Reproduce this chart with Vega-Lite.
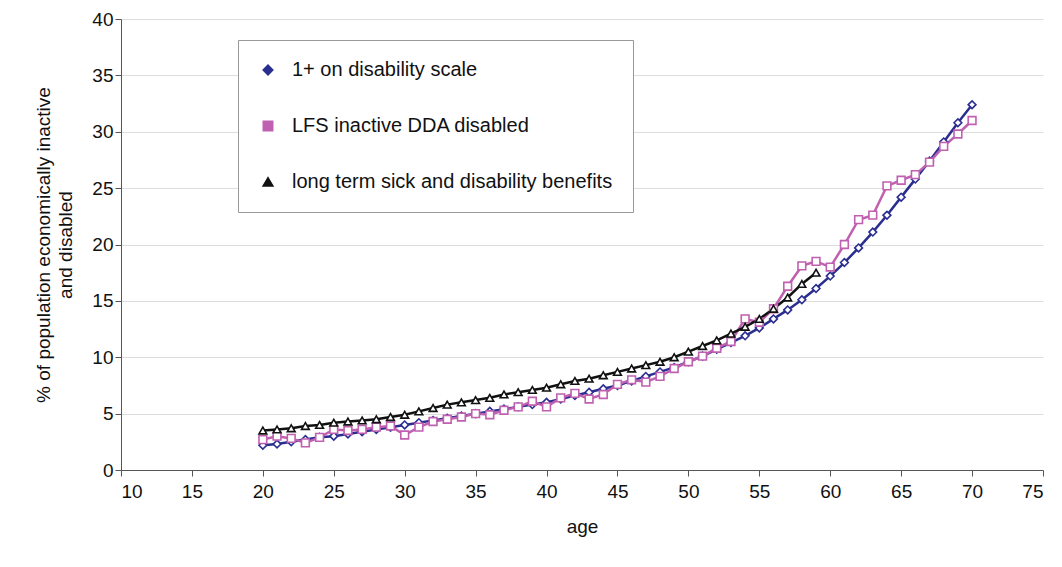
{
"$schema":"https://vega.github.io/schema/vega-lite/v6.json",
"width":922,"height":451,"autosize":{"type":"none"},"padding":{"left":121,"top":19,"right":19,"bottom":97},
"background":"white",
"data":{"values":[
{"s":"1+ on disability scale","age":20,"v":2.2},{"s":"1+ on disability scale","age":21,"v":2.3},{"s":"1+ on disability scale","age":22,"v":2.5},{"s":"1+ on disability scale","age":23,"v":2.7},{"s":"1+ on disability scale","age":24,"v":2.9},{"s":"1+ on disability scale","age":25,"v":3.0},{"s":"1+ on disability scale","age":26,"v":3.2},{"s":"1+ on disability scale","age":27,"v":3.4},{"s":"1+ on disability scale","age":28,"v":3.6},{"s":"1+ on disability scale","age":29,"v":3.8},{"s":"1+ on disability scale","age":30,"v":4.0},{"s":"1+ on disability scale","age":31,"v":4.2},{"s":"1+ on disability scale","age":32,"v":4.4},{"s":"1+ on disability scale","age":33,"v":4.6},{"s":"1+ on disability scale","age":34,"v":4.8},{"s":"1+ on disability scale","age":35,"v":5.0},{"s":"1+ on disability scale","age":36,"v":5.2},{"s":"1+ on disability scale","age":37,"v":5.4},{"s":"1+ on disability scale","age":38,"v":5.6},{"s":"1+ on disability scale","age":39,"v":5.8},{"s":"1+ on disability scale","age":40,"v":6.0},{"s":"1+ on disability scale","age":41,"v":6.3},{"s":"1+ on disability scale","age":42,"v":6.6},{"s":"1+ on disability scale","age":43,"v":6.9},{"s":"1+ on disability scale","age":44,"v":7.2},{"s":"1+ on disability scale","age":45,"v":7.5},{"s":"1+ on disability scale","age":46,"v":7.9},{"s":"1+ on disability scale","age":47,"v":8.3},{"s":"1+ on disability scale","age":48,"v":8.7},{"s":"1+ on disability scale","age":49,"v":9.1},{"s":"1+ on disability scale","age":50,"v":9.6},{"s":"1+ on disability scale","age":51,"v":10.1},{"s":"1+ on disability scale","age":52,"v":10.7},{"s":"1+ on disability scale","age":53,"v":11.3},{"s":"1+ on disability scale","age":54,"v":11.9},{"s":"1+ on disability scale","age":55,"v":12.6},{"s":"1+ on disability scale","age":56,"v":13.4},{"s":"1+ on disability scale","age":57,"v":14.2},{"s":"1+ on disability scale","age":58,"v":15.1},{"s":"1+ on disability scale","age":59,"v":16.1},{"s":"1+ on disability scale","age":60,"v":17.2},{"s":"1+ on disability scale","age":61,"v":18.4},{"s":"1+ on disability scale","age":62,"v":19.7},{"s":"1+ on disability scale","age":63,"v":21.1},{"s":"1+ on disability scale","age":64,"v":22.6},{"s":"1+ on disability scale","age":65,"v":24.2},{"s":"1+ on disability scale","age":66,"v":25.8},{"s":"1+ on disability scale","age":67,"v":27.4},{"s":"1+ on disability scale","age":68,"v":29.1},{"s":"1+ on disability scale","age":69,"v":30.8},{"s":"1+ on disability scale","age":70,"v":32.4},
{"s":"LFS inactive DDA disabled","age":20,"v":2.7},{"s":"LFS inactive DDA disabled","age":21,"v":3.0},{"s":"LFS inactive DDA disabled","age":22,"v":2.8},{"s":"LFS inactive DDA disabled","age":23,"v":2.4},{"s":"LFS inactive DDA disabled","age":24,"v":2.9},{"s":"LFS inactive DDA disabled","age":25,"v":3.6},{"s":"LFS inactive DDA disabled","age":26,"v":3.5},{"s":"LFS inactive DDA disabled","age":27,"v":3.6},{"s":"LFS inactive DDA disabled","age":28,"v":3.8},{"s":"LFS inactive DDA disabled","age":29,"v":3.9},{"s":"LFS inactive DDA disabled","age":30,"v":3.1},{"s":"LFS inactive DDA disabled","age":31,"v":3.8},{"s":"LFS inactive DDA disabled","age":32,"v":4.3},{"s":"LFS inactive DDA disabled","age":33,"v":4.5},{"s":"LFS inactive DDA disabled","age":34,"v":4.7},{"s":"LFS inactive DDA disabled","age":35,"v":5.0},{"s":"LFS inactive DDA disabled","age":36,"v":4.9},{"s":"LFS inactive DDA disabled","age":37,"v":5.3},{"s":"LFS inactive DDA disabled","age":38,"v":5.6},{"s":"LFS inactive DDA disabled","age":39,"v":6.1},{"s":"LFS inactive DDA disabled","age":40,"v":5.6},{"s":"LFS inactive DDA disabled","age":41,"v":6.4},{"s":"LFS inactive DDA disabled","age":42,"v":6.8},{"s":"LFS inactive DDA disabled","age":43,"v":6.3},{"s":"LFS inactive DDA disabled","age":44,"v":6.7},{"s":"LFS inactive DDA disabled","age":45,"v":7.6},{"s":"LFS inactive DDA disabled","age":46,"v":8.0},{"s":"LFS inactive DDA disabled","age":47,"v":7.8},{"s":"LFS inactive DDA disabled","age":48,"v":8.3},{"s":"LFS inactive DDA disabled","age":49,"v":9.0},{"s":"LFS inactive DDA disabled","age":50,"v":9.6},{"s":"LFS inactive DDA disabled","age":51,"v":10.1},{"s":"LFS inactive DDA disabled","age":52,"v":10.8},{"s":"LFS inactive DDA disabled","age":53,"v":11.4},{"s":"LFS inactive DDA disabled","age":54,"v":13.4},{"s":"LFS inactive DDA disabled","age":55,"v":13.1},{"s":"LFS inactive DDA disabled","age":56,"v":14.3},{"s":"LFS inactive DDA disabled","age":57,"v":16.3},{"s":"LFS inactive DDA disabled","age":58,"v":18.1},{"s":"LFS inactive DDA disabled","age":59,"v":18.5},{"s":"LFS inactive DDA disabled","age":60,"v":18.0},{"s":"LFS inactive DDA disabled","age":61,"v":20.0},{"s":"LFS inactive DDA disabled","age":62,"v":22.2},{"s":"LFS inactive DDA disabled","age":63,"v":22.6},{"s":"LFS inactive DDA disabled","age":64,"v":25.2},{"s":"LFS inactive DDA disabled","age":65,"v":25.7},{"s":"LFS inactive DDA disabled","age":66,"v":26.2},{"s":"LFS inactive DDA disabled","age":67,"v":27.3},{"s":"LFS inactive DDA disabled","age":68,"v":28.7},{"s":"LFS inactive DDA disabled","age":69,"v":29.8},{"s":"LFS inactive DDA disabled","age":70,"v":31.0},
{"s":"long term sick and disability benefits","age":20,"v":3.5},{"s":"long term sick and disability benefits","age":21,"v":3.6},{"s":"long term sick and disability benefits","age":22,"v":3.7},{"s":"long term sick and disability benefits","age":23,"v":3.9},{"s":"long term sick and disability benefits","age":24,"v":4.0},{"s":"long term sick and disability benefits","age":25,"v":4.2},{"s":"long term sick and disability benefits","age":26,"v":4.3},{"s":"long term sick and disability benefits","age":27,"v":4.4},{"s":"long term sick and disability benefits","age":28,"v":4.5},{"s":"long term sick and disability benefits","age":29,"v":4.7},{"s":"long term sick and disability benefits","age":30,"v":4.9},{"s":"long term sick and disability benefits","age":31,"v":5.2},{"s":"long term sick and disability benefits","age":32,"v":5.5},{"s":"long term sick and disability benefits","age":33,"v":5.8},{"s":"long term sick and disability benefits","age":34,"v":6.0},{"s":"long term sick and disability benefits","age":35,"v":6.2},{"s":"long term sick and disability benefits","age":36,"v":6.4},{"s":"long term sick and disability benefits","age":37,"v":6.7},{"s":"long term sick and disability benefits","age":38,"v":6.9},{"s":"long term sick and disability benefits","age":39,"v":7.1},{"s":"long term sick and disability benefits","age":40,"v":7.3},{"s":"long term sick and disability benefits","age":41,"v":7.6},{"s":"long term sick and disability benefits","age":42,"v":7.9},{"s":"long term sick and disability benefits","age":43,"v":8.1},{"s":"long term sick and disability benefits","age":44,"v":8.4},{"s":"long term sick and disability benefits","age":45,"v":8.7},{"s":"long term sick and disability benefits","age":46,"v":9.0},{"s":"long term sick and disability benefits","age":47,"v":9.3},{"s":"long term sick and disability benefits","age":48,"v":9.6},{"s":"long term sick and disability benefits","age":49,"v":10.0},{"s":"long term sick and disability benefits","age":50,"v":10.5},{"s":"long term sick and disability benefits","age":51,"v":11.0},{"s":"long term sick and disability benefits","age":52,"v":11.5},{"s":"long term sick and disability benefits","age":53,"v":12.1},{"s":"long term sick and disability benefits","age":54,"v":12.7},{"s":"long term sick and disability benefits","age":55,"v":13.4},{"s":"long term sick and disability benefits","age":56,"v":14.3},{"s":"long term sick and disability benefits","age":57,"v":15.3},{"s":"long term sick and disability benefits","age":58,"v":16.5},{"s":"long term sick and disability benefits","age":59,"v":17.5}
]},
"config":{"font":"Liberation Sans","view":{"stroke":null},"axis":{"labelFont":"Liberation Sans","titleFont":"Liberation Sans","labelFontSize":19,"titleFontSize":19,"titleFontWeight":"normal","labelColor":"#111","titleColor":"#111","domainColor":"#555","tickColor":"#555"}},
"encoding":{
"x":{"field":"age","type":"quantitative","scale":{"domain":[10,75],"nice":false},"axis":{"title":"age","values":[10,15,20,25,30,35,40,45,50,55,60,65,70,75],"grid":false,"tickSize":6,"labelPadding":6,"titlePadding":16}},
"y":{"field":"v","type":"quantitative","scale":{"domain":[0,40],"nice":false},"axis":{"title":["% of population economically inactive","and disabled"],"values":[0,5,10,15,20,25,30,35,40],"gridColor":"#ddd","tickSize":6,"titlePadding":16,"titleLineHeight":22}},
"color":{"field":"s","type":"nominal","scale":{"domain":["1+ on disability scale","LFS inactive DDA disabled","long term sick and disability benefits"],"range":["#2a2e90","#c060b0","#111111"]},
 "legend":{"title":null,"orient":"none","legendX":117,"legendY":21,"padding":20,"strokeColor":"#999","fillColor":"white","labelFontSize":20,"labelFont":"Liberation Sans","labelColor":"#111","labelLimit":500,"rowPadding":36,"symbolSize":80,"symbolStrokeWidth":2,"labelOffset":14,
  "encode":{"symbols":{"enter":{"fill":{"value":"white"}},"update":{"fill":{"value":"white"},"fillOpacity":{"value":1}}}}}},
"shape":{"field":"s","type":"nominal","scale":{"domain":["1+ on disability scale","LFS inactive DDA disabled","long term sick and disability benefits"],"range":["diamond","square","triangle-up"]},"legend":null}
},
"layer":[
{"mark":{"type":"line","strokeWidth":2.5}},
{"mark":{"type":"point","filled":false,"fill":"white","fillOpacity":1,"strokeWidth":1.6,"size":60,"opacity":1}}
]
}
